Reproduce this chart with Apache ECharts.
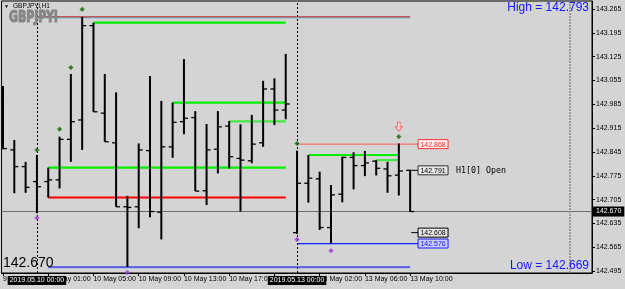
<!DOCTYPE html>
<html><head><meta charset="utf-8">
<script src="https://cdn.jsdelivr.net/npm/echarts@6/dist/echarts.min.js"></script>
<style>html,body{margin:0;padding:0;background:#d4d4d4;}#c{width:625px;height:289px;}</style>
</head><body><div id="c"></div>
<script>
// ---- DATA (GBPJPYi, H1) ----  bar index 0 = 2019.05.10 00:00, 23 = 2019.05.13 00:00
const barIndex = [-3,-2,-1,0,1,2,3,4,5,6,7,8,9,10,11,12,13,14,15,16,17,18,19,20,21,22,23,24,25,26,27,28,29,30,31,32,33];
const openP  = [142.990,142.851,142.802,142.758,142.758,142.763,142.882,142.939,143.216,142.959,142.872,142.684,142.684,142.849,142.668,142.860,142.934,142.946,142.731,142.853,142.921,142.826,142.819,142.872,143.030,142.968,142.608,142.753,142.766,142.623,142.721,142.829,142.805,142.818,142.795,142.777,142.791];
const highP  = [143.039,142.880,142.816,142.836,142.799,142.890,143.074,143.242,143.225,143.074,143.020,142.716,142.870,143.068,142.995,142.990,143.118,142.965,142.927,142.965,142.936,142.926,142.954,143.054,143.061,143.133,142.849,142.836,142.787,142.748,142.831,142.844,142.848,142.821,142.816,142.870,142.793];
const lowP   = [142.853,142.724,142.725,142.665,142.711,142.738,142.816,142.851,142.963,142.875,142.684,142.507,142.621,142.653,142.588,142.828,142.897,142.730,142.689,142.782,142.797,142.670,142.812,142.860,142.924,142.941,142.604,142.696,142.616,142.576,142.697,142.735,142.774,142.776,142.725,142.717,142.669];
const closeP = [142.855,142.802,142.741,142.743,142.763,142.882,142.934,143.216,142.963,142.875,142.684,142.682,142.851,142.670,142.860,142.932,142.944,142.730,142.851,142.919,142.831,142.821,142.868,143.030,142.968,142.986,142.753,142.768,142.623,142.719,142.829,142.805,142.813,142.797,142.775,142.789,142.670];

const xTickIdx = [-3,1,5,9,13,17,21,25,29,33];
const xTickLabels = ['9 May 21:00','10 May 01:00','10 May 05:00','10 May 09:00','10 May 13:00','10 May 17:00','10 May 21:00','13 May 02:00','13 May 06:00','13 May 10:00'];
const yTicks = [142.495,142.565,142.635,142.705,142.775,142.845,142.915,142.985,143.055,143.125,143.195,143.265];

const separatorIdx = [0, 23];
const separatorLabels = ['2019.05.10 00:00','2019.05.13 00:00'];
const shiftIdx = 47.14;
const currentPrice = 142.670;

// horizontal level segments [fromIdx, toIdx, price]
const redTopSeg   = [0, 33, 143.242];
const greenSegs   = [[5,22,143.225],[12,22,142.990],[1,22,142.799],[24,32,142.836]];
const greenLtSegs = [[17,22,142.935],[30,32,142.821]];
const redSeg      = [1, 22, 142.711];
const blueLowSeg  = [1, 33, 142.507];
const pinkSeg     = [23, 33.7, 142.868];
const blueSeg     = [23, 33.7, 142.576];
const stubSegs    = [[33.1,33.7,142.791],[33.1,33.7,142.608]];

// right-side price labels
const priceLabelIdx = 33.7;
const priceLabels = [142.868, 142.791, 142.608, 142.576];
const priceLabelNote = ['', 'H1[0] Open', '', ''];

// fractal markers
const upMarkers   = [[0,142.851],[2,142.912],[3,143.093],[4,143.264],[23,142.870],[32,142.890]];
const downMarkers = [[0,142.651],[8,142.491],[23,142.588],[26,142.555]];
const arrowMarker = [[32,142.919]];

// ---- STYLES ----
const labelStyles = [
  {border:'#ff3030', bg:'#fff0f0', text:'#ff2020'},
  {border:'#303030', bg:'#e6e6e6', text:'#000'},
  {border:'#000000', bg:'#e6e6e6', text:'#000'},
  {border:'#2020ff', bg:'#c8ccff', text:'#1010ff'}
];
const FONT = 'Liberation Sans, Arial, sans-serif';

function seg(s, color, width, z, extra) {
  return Object.assign({type:'line', data:[[s[0],s[2]],[s[1],s[2]]], symbol:'none', silent:true, z:z||2,
    itemStyle:{color:color}, lineStyle:{color:color, width:width}}, extra||{});
}

const chart = echarts.init(document.getElementById('c'));
const series = [];

series.push(seg(redTopSeg, '#b82020', 1, 2, {lineStyle:{color:'#b82020', width:1, shadowColor:'#58a8c8', shadowOffsetY:1, shadowBlur:0}}));
greenSegs.forEach(s => series.push(seg(s, '#00f000', 2.2)));
greenLtSegs.forEach(s => series.push(seg(s, '#44ea44', 2.2)));
series.push(seg(redSeg, '#ff0000', 2));
series.push(seg(blueLowSeg, '#0000e0', 1, 2, {lineStyle:{color:'#0000e0', width:1, shadowColor:'#9ab0f0', shadowOffsetY:1, shadowBlur:0}}));
series.push(seg(pinkSeg, '#ff5a5a', 1));
series.push(seg(blueSeg, '#1e1eff', 1, 3, {lineStyle:{color:'#1e1eff', width:1, shadowColor:'#8ea8f8', shadowOffsetY:1, shadowBlur:0}}));
stubSegs.forEach(s => series.push(seg(s, '#000', 1)));

// mark lines (current price, separators)
series.push({
  type:'line', data:[], silent:true, z:1,
  markLine:{
    silent:true, symbol:['none','none'], animation:false,
    data:[
      {yAxis: currentPrice, lineStyle:{color:'#6e6e6e', width:1, type:'solid'},
       label:{show:true, position:'end', formatter: currentPrice.toFixed(3), backgroundColor:'#000', color:'#fff',
              fontSize:7, fontFamily:FONT, padding:[2,3,1,3], distance:1}},
      {xAxis: separatorIdx[0], lineStyle:{color:'#000', width:1, type:[2,2]},
       label:{show:true, position:'start', formatter: separatorLabels[0], backgroundColor:'#000', color:'#fff',
              fontSize:7, fontFamily:FONT, padding:[1,2,1,2], distance:3}},
      {xAxis: separatorIdx[1], lineStyle:{color:'#000', width:1, type:[2,2]},
       label:{show:true, position:'start', formatter: separatorLabels[1], backgroundColor:'#000', color:'#fff',
              fontSize:7, fontFamily:FONT, padding:[1,2,1,2], distance:3}},
      {xAxis: shiftIdx, lineStyle:{color:'#8a8a8a', width:1.5, type:[2,1]}, label:{show:false}}
    ]
  }
});

// OHLC bars
series.push({
  type:'custom', z:5, clip:true,
  data: barIndex.map((x,i)=>[x, openP[i], highP[i], lowP[i], closeP[i]]),
  encode:{x:0, y:[1,2,3,4]},
  renderItem:(params, api)=>{
    const x = api.value(0);
    const o = api.coord([x, api.value(1)]), h = api.coord([x, api.value(2)]);
    const l = api.coord([x, api.value(3)]), c = api.coord([x, api.value(4)]);
    const st = {stroke:'#000', lineWidth:2};
    const tk = {stroke:'#000', lineWidth:1.3};
    return {type:'group', children:[
      {type:'line', shape:{x1:h[0], y1:h[1], x2:l[0], y2:l[1]}, style:st},
      {type:'line', shape:{x1:o[0]-4, y1:o[1], x2:o[0], y2:o[1]}, style:tk},
      {type:'line', shape:{x1:c[0], y1:c[1], x2:c[0]+4, y2:c[1]}, style:tk}
    ]};
  }
});

// price label boxes
series.push({
  type:'custom', z:6, clip:false,
  data: priceLabels.map((p,i)=>[priceLabelIdx, p, i]),
  encode:{x:0, y:1},
  renderItem:(params, api)=>{
    const i = api.value(2);
    const pt = api.coord([api.value(0), api.value(1)]);
    const s = labelStyles[i];
    const children = [
      {type:'rect', shape:{x:pt[0], y:pt[1]-4.5, width:30, height:9}, style:{fill:s.bg, stroke:s.border, lineWidth:1}},
      {type:'text', x:pt[0]+15, y:pt[1]+0.5, style:{text:api.value(1).toFixed(3), fill:s.text, font:'7px '+FONT, align:'center', verticalAlign:'middle'}}
    ];
    if (priceLabelNote[i]) children.push({type:'text', x:pt[0]+38, y:pt[1]+0.5,
      style:{text:priceLabelNote[i], fill:'#000', font:'8.3px DejaVu Sans Mono, Liberation Mono, monospace', align:'left', verticalAlign:'middle'}});
    return {type:'group', children};
  }
});

series.push({type:'scatter', data:upMarkers, symbol:'diamond', symbolSize:5, z:7, silent:true,
  itemStyle:{color:'#0b5e0b', borderColor:'#7aa84a', borderWidth:0.6}});
series.push({type:'scatter', data:downMarkers, symbol:'diamond', symbolSize:5, z:7, silent:true,
  itemStyle:{color:'#9b30d0', borderColor:'#b070e0', borderWidth:0.5}});
series.push({type:'scatter', data:arrowMarker, z:7, silent:true,
  symbol:'path://M3,0 L7,0 L7,5 L10,5 L5,10 L0,5 L3,5 Z', symbolSize:[7,9],
  itemStyle:{color:'#ffe4e4', borderColor:'#ff5050', borderWidth:1}});

const option = {
  animation:false,
  backgroundColor:'#d4d4d4',
  grid:{left:1, right:33, top:1, bottom:16, show:true, borderColor:'#000', borderWidth:1, backgroundColor:'#d4d4d4'},
  xAxis:{type:'value', min:-3.127, max:49.081,
    splitLine:{show:false},
    axisLine:{show:true, onZero:false, lineStyle:{color:'#000', width:1}},
    axisTick:{show:true, customValues:xTickIdx, length:3, lineStyle:{color:'#000'}},
    axisLabel:{show:true, customValues:xTickIdx, align:'left', margin:3, fontSize:7, fontFamily:FONT, color:'#000',
      formatter:(v)=>{const k = xTickIdx.indexOf(Math.round(v)); return k>=0 ? xTickLabels[k] : '';}}
  },
  yAxis:{type:'value', position:'right', min:142.4894, max:143.2885,
    splitLine:{show:false},
    axisLine:{show:true, onZero:false, lineStyle:{color:'#000', width:1}},
    axisTick:{show:true, customValues:yTicks, length:3, lineStyle:{color:'#000'}},
    axisLabel:{show:true, customValues:yTicks, margin:4, fontSize:7, fontFamily:FONT, color:'#000',
      formatter:(v)=>v.toFixed(3)}
  },
  graphic:[
    {type:'text', left:4, top:4, z:20, style:{text:'▼', font:'5px '+FONT, fill:'#000'}},
    {type:'text', left:13, top:3, z:20, style:{text:'GBPJPYi,H1', font:'6.5px '+FONT, fill:'#000'}},
    {type:'text', x:9, y:10, scaleX:0.68, z:20, style:{text:'GBPJPYi', fontSize:16, fontWeight:'bold', fontFamily:'DejaVu Sans', fill:'#868686', stroke:'#868686', lineWidth:1.2}},
    {type:'text', right:36, top:2, z:20, style:{text:'High = '+highP[highP.length-1].toFixed(3), font:'12px '+FONT, fill:'#1414ff', align:'right'}},
    {type:'text', right:36, top:260, z:20, style:{text:'Low = '+lowP[lowP.length-1].toFixed(3), font:'12px '+FONT, fill:'#1414ff', align:'right'}},
    {type:'text', left:3, top:256, z:20, style:{text:currentPrice.toFixed(3), font:'14px '+FONT, fill:'#000'}}
  ],
  series: series
};
chart.setOption(option);
</script></body></html>
